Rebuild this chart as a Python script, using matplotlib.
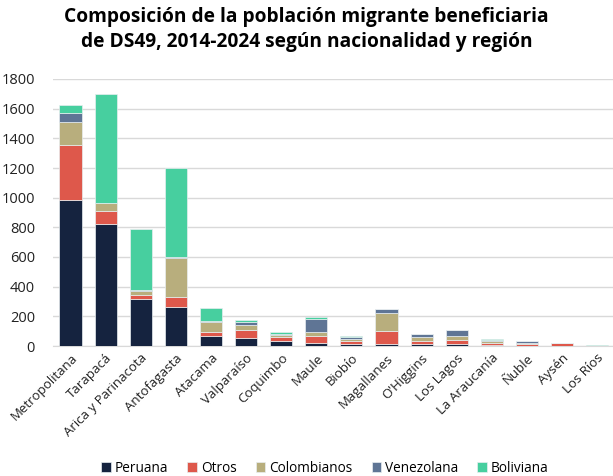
import numpy as np
import matplotlib
matplotlib.use("Agg")
import matplotlib.pyplot as plt

plt.rcParams['font.family'] = ['Open Sans', 'DejaVu Sans']

regiones = ['Metropolitana', 'Tarapacá', 'Arica y Parinacota', 'Antofagasta',
            'Atacama', 'Valparaíso', 'Coquimbo', 'Maule', 'Biobío', 'Magallanes',
            "O'Higgins", 'Los Lagos', 'La Araucanía', 'Ñuble', 'Aysén', 'Los Ríos']

peruana = [983, 821, 320, 262, 70, 52, 31, 20, 13, 16, 13, 11, 9, 2, 2, 0]
otros = [370, 88, 25, 65, 27, 58, 29, 49, 20, 86, 23, 29, 13, 14, 18, 0]
colombianos = [156, 56, 27, 266, 63, 32, 11, 27, 14, 118, 24, 29, 9, 2, 2, 0]
venezolana = [63, 0, 5, 5, 11, 20, 9, 86, 13, 27, 24, 42, 9, 14, 0, 0]
boliviana = [54, 735, 413, 604, 82, 16, 16, 14, 7, 0, 0, 0, 7, 2, 0, 4]

series = [('Peruana', peruana, '#15233f'),
          ('Otros', otros, '#de584b'),
          ('Colombianos', colombianos, '#b8ae7d'),
          ('Venezolana', venezolana, '#5f7595'),
          ('Boliviana', boliviana, '#47cf9f')]

fig = plt.figure(figsize=(6.13, 4.76), dpi=100)
ax = fig.add_axes([53 / 613, 1 - 346 / 476, 560 / 613, 267 / 476])

x = np.arange(len(regiones))
bottom = np.zeros(len(regiones))
for nombre, vals, color in series:
    vals = np.array(vals, dtype=float)
    ax.bar(x, vals, width=0.63, bottom=bottom, color=color, label=nombre,
           edgecolor='#e8eef0', linewidth=0.5, zorder=3)
    bottom += vals

ax.set_ylim(0, 1800)
ax.set_xlim(-0.5, 15.45)
ax.set_yticks(range(0, 1801, 200))
ax.yaxis.grid(True, color='#d9d9d9', linewidth=1, zorder=0)
for s in ['top', 'right', 'left']:
    ax.spines[s].set_visible(False)
ax.spines['bottom'].set_color('#d9d9d9')
ax.tick_params(axis='both', length=0, colors='#222222')
ax.tick_params(axis='y', pad=13, labelsize=10.5)
ax.tick_params(axis='x', pad=4, labelsize=9.5)
ax.set_xticks(x)
ax.set_xticklabels(regiones, rotation=45, ha='right', rotation_mode='anchor')

fig.suptitle('Composición de la población migrante beneficiaria\n'
             'de DS49, 2014-2024 según nacionalidad y región',
             fontsize=13.8, fontweight='bold', y=0.985, linespacing=1.3)

fig.legend(loc='lower center', ncol=5, frameon=False, fontsize=9.8,
           handlelength=0.7, handleheight=0.7, handletextpad=0.3,
           columnspacing=1.4, bbox_to_anchor=(0.53, -0.025))

fig.savefig('out.png', dpi=100)
